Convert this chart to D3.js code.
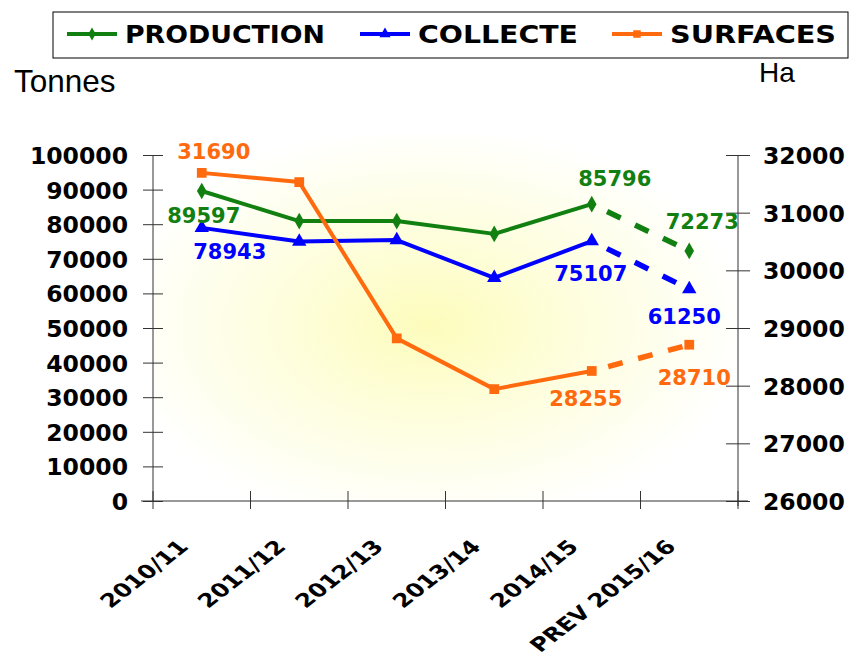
<!DOCTYPE html>
<html>
<head>
<meta charset="utf-8">
<script src="https://cdnjs.cloudflare.com/ajax/libs/d3/7.8.5/d3.min.js"></script>
<style>
  body { margin: 0; background: #fff; }
  text { font-family: "DejaVu Sans", "Liberation Sans", Arial, sans-serif; font-weight: bold; }
  text.plain { font-family: "Liberation Sans", Arial, sans-serif; font-weight: normal; }
</style>
</head>
<body>
<div id="chart"></div>
<script>
"use strict";

// categories and series
const years = ["2010/11", "2011/12", "2012/13", "2013/14", "2014/15", "PREV 2015/16"];
const production = [89597, 80900, 80900, 77200, 85796, 72273];
const collecte = [78943, 75000, 75400, 64500, 75107, 61250];
const surfaces = [31690, 31530, 28820, 27940, 28255, 28710];
const leftTicks = [0, 10000, 20000, 30000, 40000, 50000, 60000, 70000, 80000, 90000, 100000];
const rightTicks = [26000, 27000, 28000, 29000, 30000, 31000, 32000];

const msm = {
    width: 852,
    height: 661,
    left: 153,
    right: 738,
    top: 155,
    bottom: 501
}

const svg = d3.select("#chart")
    .append("svg")
    .attr("width", msm.width)
    .attr("height", msm.height);

// background glow
const defs = svg.append("defs");
const grad = defs.append("radialGradient")
    .attr("id", "glow")
    .attr("cx", "0.47").attr("cy", "0.52").attr("r", "0.55");
grad.append("stop").attr("offset", "0%").attr("stop-color", "#fdfcbc");
grad.append("stop").attr("offset", "50%").attr("stop-color", "#fefee0");
grad.append("stop").attr("offset", "100%").attr("stop-color", "#ffffff");

svg.append("rect")
    .attr("x", msm.left)
    .attr("y", msm.top - 20)
    .attr("width", msm.right - msm.left)
    .attr("height", msm.bottom - msm.top + 20)
    .attr("fill", "url(#glow)");

// scales
const x = d3.scaleBand().domain(years).range([msm.left, msm.right]);
const yLeft = d3.scaleLinear().domain([0, 100000]).range([msm.bottom, msm.top]);
const yRight = d3.scaleLinear().domain([26000, 32000]).range([msm.bottom, msm.top]);
const cx = (i) => x(years[i]) + x.bandwidth() / 2;

// axes
let gl = svg.append("g")
    .attr("transform", "translate(" + msm.left + ",0)")
    .call(d3.axisLeft(yLeft).tickValues(leftTicks).tickFormat(d3.format("d")).tickSize(10).tickSizeOuter(0));
gl.selectAll(".tick line").attr("x2", 10).attr("x1", -10).attr("stroke", "#333");
gl.selectAll("text").attr("x", -25).attr("dy", "0.36em")
    .style("font-size", "23.5px").attr("fill", "#000");
gl.select(".domain").attr("stroke", "#333").attr("d", "M0," + msm.bottom + "V" + msm.top);

let gr = svg.append("g")
    .attr("transform", "translate(" + msm.right + ",0)")
    .call(d3.axisRight(yRight).tickValues(rightTicks).tickFormat(d3.format("d")).tickSize(10).tickSizeOuter(0));
gr.selectAll(".tick line").attr("x2", 12).attr("x1", -12).attr("stroke", "#333");
gr.selectAll("text").attr("x", 25).attr("dy", "0.36em")
    .style("font-size", "23.5px").attr("fill", "#000");
gr.select(".domain").attr("stroke", "#333").attr("d", "M0," + (msm.bottom + 5) + "V" + msm.top);

// x axis with ticks between categories
let gx = svg.append("g")
    .attr("transform", "translate(0," + msm.bottom + ")");
gx.append("line")
    .attr("x1", msm.left - 12).attr("x2", msm.right + 10)
    .attr("stroke", "#333");
gx.selectAll(".xt")
    .data(d3.range(years.length + 1))
    .enter()
    .append("line")
    .attr("x1", (i) => msm.left + i * x.bandwidth())
    .attr("x2", (i) => msm.left + i * x.bandwidth())
    .attr("y1", -10).attr("y2", 8)
    .attr("stroke", "#333");
// labels are stretched a little sideways, like the original
gx.selectAll(".xl")
    .data(years)
    .enter()
    .append("text")
    .attr("text-anchor", "end")
    .attr("transform", (d) => "translate(" + (x(d) + x.bandwidth() / 2 - 12) + ",47) scale(1.3,1) rotate(-45)")
    .style("font-size", "19px")
    .text((d) => d);

// axis titles
svg.append("text").attr("class", "plain").attr("x", 14).attr("y", 92).style("font-size", "31.5px").text("Tonnes");
svg.append("text").attr("class", "plain").attr("x", 759).attr("y", 82).style("font-size", "28px").text("Ha");

// series
const series = [
    { name: "PRODUCTION", values: production, scale: yLeft, color: "#118011", symbol: d3.symbolDiamond, size: 80, w: 200 },
    { name: "COLLECTE", values: collecte, scale: yLeft, color: "#0000ff", symbol: d3.symbolTriangle, size: 90, w: 160 },
    { name: "SURFACES", values: surfaces, scale: yRight, color: "#ff6a0e", symbol: d3.symbolSquare, size: 95, w: 166 }
];

series.forEach((s) => {
    let line = d3.line()
        .x((d) => cx(d.i))
        .y((d) => s.scale(d.v));
    let pts = s.values.map((v, i) => ({ v: v, i: i }));
    svg.append("path")
        .datum(pts.slice(0, 5))
        .attr("fill", "none")
        .attr("stroke", s.color)
        .attr("stroke-width", 4)
        .attr("stroke-linejoin", "round")
        .attr("d", line);
    svg.append("path")
        .datum(pts.slice(4, 6))
        .attr("fill", "none")
        .attr("stroke", s.color)
        .attr("stroke-width", 5.5)
        .attr("stroke-dasharray", "15,16")
        .attr("stroke-dashoffset", -17)
        .attr("d", line);
    svg.selectAll(".m-" + s.name)
        .data(pts)
        .enter()
        .append("path")
        .attr("d", d3.symbol().type(s.symbol).size(s.size))
        .attr("transform", (d) => "translate(" + cx(d.i) + "," + s.scale(d.v) + ")")
        .attr("fill", s.color);
});

// data labels
const labelSpots = [
    { s: 2, i: 0, dx: 12, dy: -21 },
    { s: 0, i: 0, dx: 2, dy: 24 },
    { s: 1, i: 0, dx: 28, dy: 24 },
    { s: 0, i: 4, dx: 23, dy: -26 },
    { s: 0, i: 5, dx: 13, dy: -29 },
    { s: 1, i: 4, dx: -1, dy: 32 },
    { s: 1, i: 5, dx: -5, dy: 27 },
    { s: 2, i: 4, dx: -6, dy: 27 },
    { s: 2, i: 5, dx: 5, dy: 33 }
];
svg.selectAll(".lbl")
    .data(labelSpots)
    .enter()
    .append("text")
    .attr("x", (d) => cx(d.i) + d.dx)
    .attr("y", (d) => series[d.s].scale(series[d.s].values[d.i]) + d.dy)
    .attr("text-anchor", "middle")
    .attr("dy", "0.36em")
    .style("font-size", "21px")
    .attr("fill", (d) => series[d.s].color)
    .text((d) => series[d.s].values[d.i]);

// legend
svg.append("rect")
    .attr("x", 53).attr("y", 12)
    .attr("width", 795).attr("height", 46)
    .attr("fill", "#fff").attr("stroke", "#000");
const legendX = [67, 360, 612];
series.forEach((s, k) => {
    let g = svg.append("g").attr("transform", "translate(" + legendX[k] + ",34)");
    g.append("line").attr("x1", 0).attr("x2", 50).attr("stroke", s.color).attr("stroke-width", 4);
    g.append("path").attr("d", d3.symbol().type(s.symbol).size(s.size * 0.6))
        .attr("transform", "translate(25,0)").attr("fill", s.color);
    g.append("text").attr("x", 58).attr("dy", "0.36em")
        .style("font-size", "25px")
        .attr("textLength", s.w)
        .attr("lengthAdjust", "spacingAndGlyphs")
        .text(s.name);
});
</script>
</body>
</html>
